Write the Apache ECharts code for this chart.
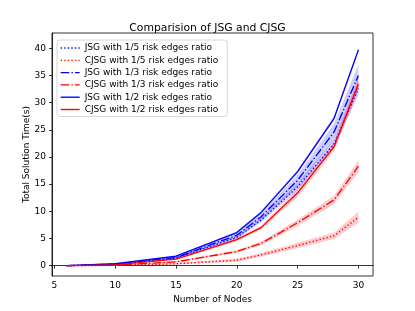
<!DOCTYPE html>
<html>
<head>
<meta charset="utf-8">
<script src="https://cdn.jsdelivr.net/npm/echarts@6/dist/echarts.min.js"></script>
<style>html,body{margin:0;padding:0;background:#fff}#c{width:415px;height:311px}</style>
</head>
<body>
<div id="c"></div>
<script>
// ---- data ----
const xNodes = [6, 10, 15, 20, 22, 25, 28, 30];
const xTicks = [5, 10, 15, 20, 25, 30];
const yTicks = [0, 5, 10, 15, 20, 25, 30, 35, 40];

const jsg15  = [0.0, 0.25, 1.4, 5.2, 8.4, 14.5, 22.4, 32.6];
const cjsg15 = [0.0, 0.05, 0.35, 1.0, 2.0, 3.7, 5.5, 8.9];
const jsg13  = [0.0, 0.3, 1.5, 5.6, 9.0, 15.7, 24.6, 35.0];
const cjsg13 = [0.0, 0.1, 0.7, 2.6, 4.1, 7.9, 12.1, 18.3];
const jsg12  = [0.0, 0.35, 1.75, 6.1, 9.8, 17.3, 27.1, 39.7];
const cjsg12 = [0.0, 0.15, 1.2, 4.8, 7.0, 13.4, 21.9, 33.4];

// half-width of the shaded spread around each line
const jsg15Spread  = [0.02, 0.05, 0.15, 0.3, 0.4, 0.6, 0.8, 1.2];
const cjsg15Spread = [0.02, 0.05, 0.15, 0.3, 0.35, 0.5, 0.6, 1.0];
const jsg13Spread  = [0.02, 0.06, 0.2, 0.4, 0.6, 1.0, 1.5, 2.0];
const cjsg13Spread = [0.02, 0.05, 0.15, 0.25, 0.35, 0.6, 0.75, 1.1];
const jsg12Spread  = [0.02, 0.05, 0.12, 0.2, 0.25, 0.35, 0.4, 0.4];
const cjsg12Spread = [0.02, 0.05, 0.12, 0.3, 0.35, 0.7, 0.8, 1.2];

const names = [
  'JSG with 1/5 risk edges ratio',
  'CJSG with 1/5 risk edges ratio',
  'JSG with 1/3 risk edges ratio',
  'CJSG with 1/3 risk edges ratio',
  'JSG with 1/2 risk edges ratio',
  'CJSG with 1/2 risk edges ratio'
];

// ---- styling ----
const FONT = 'DejaVu Sans';
const BLUE = '#0000ff', RED = '#ff0000';
const DOT = [1.35, 2.2];
const DASHDOT = [8.6, 2.2, 1.35, 2.2];

const specs = [
  {name: names[0], mean: jsg15, spread: jsg15Spread, color: BLUE, dash: DOT},
  {name: names[1], mean: cjsg15, spread: cjsg15Spread, color: RED, dash: DOT},
  {name: names[2], mean: jsg13, spread: jsg13Spread, color: BLUE, dash: DASHDOT},
  {name: names[3], mean: cjsg13, spread: cjsg13Spread, color: RED, dash: DASHDOT},
  {name: names[4], mean: jsg12, spread: jsg12Spread, color: BLUE, dash: 'solid'},
  {name: names[5], mean: cjsg12, spread: cjsg12Spread, color: RED, dash: 'solid'}
];

function bandSeries(s, idx) {
  const fill = s.color === BLUE ? 'rgba(0,0,255,0.2)' : 'rgba(255,0,0,0.2)';
  return {
    type: 'custom',
    name: 'band' + idx,
    silent: true,
    z: 1,
    data: xNodes.map((x, i) => [x, s.mean[i]]),
    renderItem: function (params, api) {
      if (params.dataIndex !== 0) return null;
      const pts = [];
      for (let i = 0; i < xNodes.length; i++) pts.push(api.coord([xNodes[i], s.mean[i] + s.spread[i]]));
      for (let i = xNodes.length - 1; i >= 0; i--) pts.push(api.coord([xNodes[i], s.mean[i] - s.spread[i]]));
      return {type: 'polygon', shape: {points: pts}, style: {fill: fill}};
    }
  };
}

function lineSeries(s) {
  return {
    type: 'line',
    name: s.name,
    z: 3,
    symbol: 'none',
    showSymbol: false,
    data: xNodes.map((x, i) => [x, s.mean[i]]),
    lineStyle: {color: s.color, width: 1.35, type: s.dash},
    itemStyle: {color: s.color},
    emphasis: {disabled: true}
  };
}

const series = [];
specs.forEach((s, i) => series.push(bandSeries(s, i)));
specs.forEach(s => series.push(lineSeries(s)));

const chart = echarts.init(document.getElementById('c'), null, {renderer: 'canvas'});
chart.setOption({
  animation: false,
  backgroundColor: '#fff',
  textStyle: {fontFamily: FONT},
  title: {
    text: 'Comparision of JSG and CJSG',
    left: 'center',
    top: 23,
    padding: 0,
    textStyle: {fontFamily: FONT, fontSize: 10.8, fontWeight: 'normal', color: '#000'}
  },
  legend: {
    data: names,
    orient: 'vertical',
    left: 57,
    top: 40,
    itemWidth: 19,
    itemHeight: 10,
    itemGap: 3.3,
    padding: [3.5, 9, 2.5, 3],
    borderColor: '#cccccc',
    borderWidth: 0.8,
    borderRadius: 3,
    backgroundColor: 'rgba(255,255,255,0.8)',
    itemStyle: {opacity: 0, borderWidth: 0},
    lineStyle: {width: 1.35},
    textStyle: {fontFamily: FONT, fontSize: 9, color: '#000'},
    selectedMode: false
  },
  grid: {
    left: 52, right: 42, top: 33, bottom: 35,
    show: true, borderColor: '#000', borderWidth: 0.8, backgroundColor: 'transparent'
  },
  xAxis: {
    type: 'value',
    min: 4.8, max: 31.2,
    name: 'Number of Nodes',
    nameLocation: 'middle',
    nameGap: 18,
    nameTextStyle: {fontFamily: FONT, fontSize: 9, color: '#000'},
    axisLine: {show: true, lineStyle: {color: '#000', width: 0.8}},
    axisTick: {show: true, length: 3, lineStyle: {color: '#000', width: 0.8}, customValues: xTicks},
    axisLabel: {fontFamily: FONT, fontSize: 9, color: '#000', margin: 5, customValues: xTicks},
    splitLine: {show: false}
  },
  yAxis: {
    type: 'value',
    min: -1.9, max: 42.8,
    name: 'Total Solution Time(s)',
    nameLocation: 'middle',
    nameGap: 21,
    nameMoveOverlap: false,
    nameRotate: 90,
    nameTextStyle: {fontFamily: FONT, fontSize: 9, color: '#000'},
    axisLine: {show: true, lineStyle: {color: '#000', width: 0.8}},
    axisTick: {show: true, length: 3, lineStyle: {color: '#000', width: 0.8}, customValues: yTicks},
    axisLabel: {fontFamily: FONT, fontSize: 9, color: '#000', margin: 6, customValues: yTicks},
    splitLine: {show: false}
  },
  series: series
});
</script>
</body>
</html>
